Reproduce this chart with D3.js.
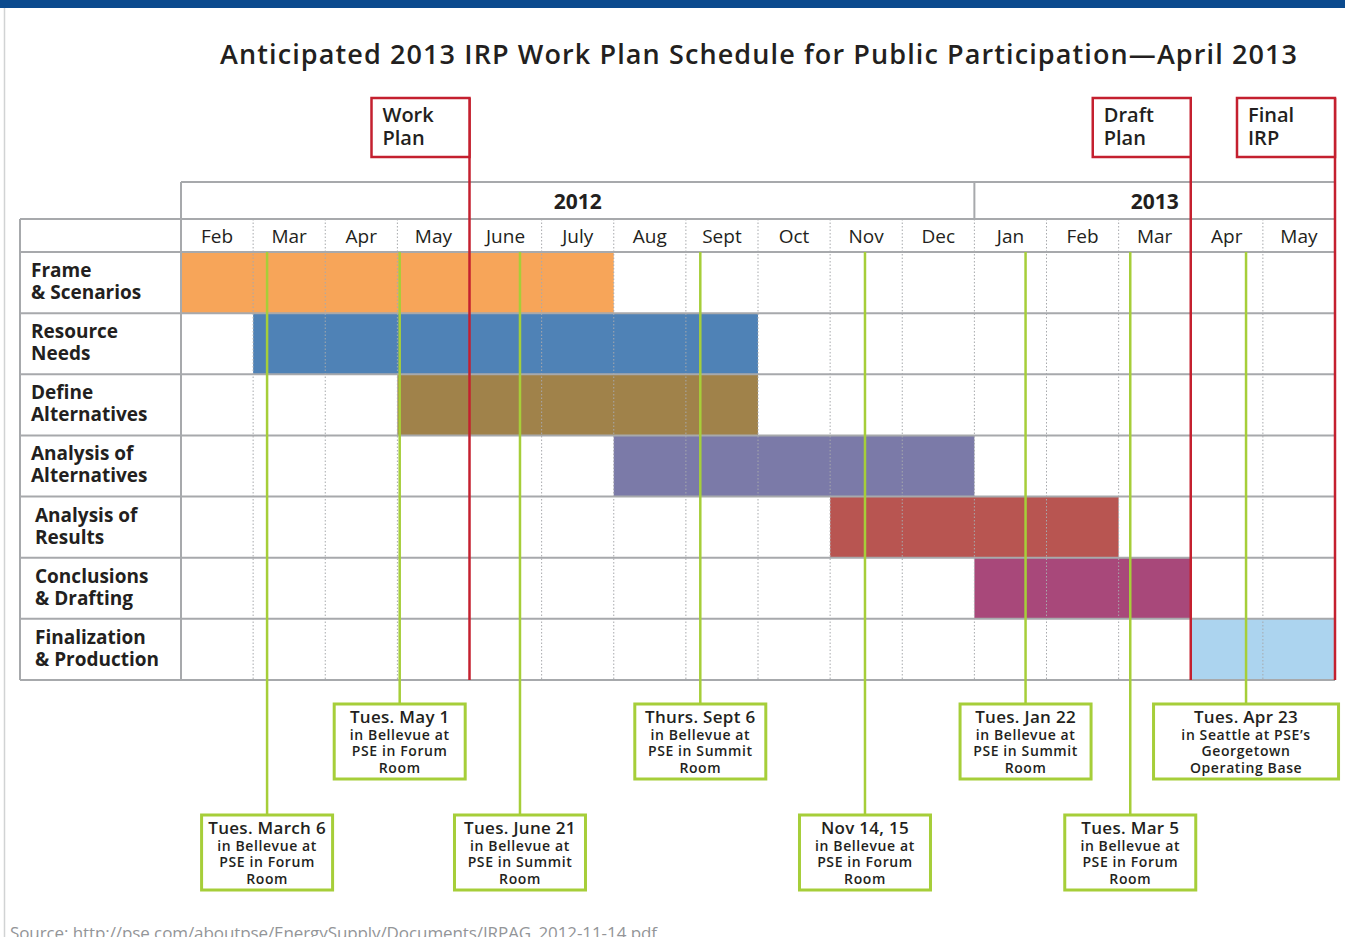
<!DOCTYPE html>
<html>
<head>
<meta charset="utf-8">
<script src="https://cdn.jsdelivr.net/npm/d3@7"></script>
<style>
  body { margin: 0; background: #fff; }
  text { font-family: "Open Sans", sans-serif; fill: #231f20; }
</style>
</head>
<body>
<div class="chartCont"></div>
<script>
const w = 1345;
const h = 937;

// data
const months = ["Feb","Mar","Apr","May","June","July","Aug","Sept","Oct","Nov","Dec","Jan","Feb","Mar","Apr","May"];
const years = ["2012", "2013"];
const yearFirstMonth = [0, 11];   // index into months

const tasks = ["Frame\n& Scenarios", "Resource\nNeeds", "Define\nAlternatives", "Analysis of\nAlternatives",
               "Analysis of\nResults", "Conclusions\n& Drafting", "Finalization\n& Production"];
const taskStart = [0, 1, 3, 6, 9, 11, 14];   // month index
const taskEnd   = [6, 8, 8, 11, 13, 14, 16];
const taskColors = ["#f7a559", "#4f82b6", "#a0824a", "#7b7aa8", "#b85551", "#a8487a", "#acd4ef"];

const milestones = ["Work\nPlan", "Draft\nPlan", "Final\nIRP"];
const milestoneMonth = [4, 14, 16];

const meetingTitles = ["Tues. March 6", "Tues. May 1", "Tues. June 21", "Thurs. Sept 6",
                       "Nov 14, 15", "Tues. Jan 22", "Tues. Mar 5", "Tues. Apr 23"];
const meetingMonth = [1, 3, 4, 7, 9, 11, 13, 14];        // month index
const meetingDay   = [6, 1, 21, 6, 14.5, 22, 5, 23];
const meetingDaysInMonth = [31, 31, 30, 30, 30, 31, 31, 30];
const meetingText = [
  ["in Bellevue at", "PSE in Forum", "Room"],
  ["in Bellevue at", "PSE in Forum", "Room"],
  ["in Bellevue at", "PSE in Summit", "Room"],
  ["in Bellevue at", "PSE in Summit", "Room"],
  ["in Bellevue at", "PSE in Forum", "Room"],
  ["in Bellevue at", "PSE in Summit", "Room"],
  ["in Bellevue at", "PSE in Forum", "Room"],
  ["in Seattle at PSE\u2019s", "Georgetown", "Operating Base"]
];
const meetingTier = [1, 0, 1, 0, 1, 0, 1, 0];

const svg = d3.select(".chartCont").append("svg")
    .attr("width", w)
    .attr("height", h);

const x = d3.scaleLinear().domain([0, months.length]).range([181, 1335]);
const yTop = 252, rowH = 61.14;
const y = d3.scaleBand().domain(d3.range(tasks.length)).range([yTop, yTop + rowH * tasks.length]);
const gridBottom = y.range()[1];
const labelLeft = 20;

const red = "#c4202f", green = "#a6ce39", gridCol = "#a7a9ac";

// top banner + page edge
svg.append("rect").attr("x", 0).attr("y", 0).attr("width", w).attr("height", 8).attr("fill", "#0b4a8e");
svg.append("line").attr("x1", 4.5).attr("x2", 4.5).attr("y1", 8).attr("y2", h)
   .attr("stroke", "#d1d3d4").attr("stroke-width", 1.5);

// title
svg.append("text")
   .attr("x", 220).attr("y", 64)
   .attr("textLength", 1077).attr("lengthAdjust", "spacing")
   .style("font-size", "27px").style("font-weight", 600)
   .text("Anticipated 2013 IRP Work Plan Schedule for Public Participation\u2014April 2013");

// bars
svg.selectAll(".bar")
   .data(tasks)
   .enter().append("rect")
   .attr("class", "bar")
   .attr("x", (d, i) => x(taskStart[i]))
   .attr("width", (d, i) => x(taskEnd[i]) - x(taskStart[i]))
   .attr("y", (d, i) => y(i))
   .attr("height", y.bandwidth())
   .attr("fill", (d, i) => taskColors[i]);

// dotted month separators
svg.selectAll(".mline")
   .data(d3.range(1, months.length))
   .enter().append("line")
   .attr("x1", d => x(d)).attr("x2", d => x(d))
   .attr("y1", 219).attr("y2", gridBottom)
   .attr("stroke", gridCol).attr("stroke-width", 1)
   .attr("stroke-dasharray", "1.5,2");

// solid grid lines
const hLines = [219].concat(d3.range(tasks.length + 1).map(i => yTop + i * rowH));
svg.selectAll(".hline")
   .data(hLines)
   .enter().append("line")
   .attr("x1", labelLeft).attr("x2", x.range()[1])
   .attr("y1", d => d).attr("y2", d => d)
   .attr("stroke", gridCol).attr("stroke-width", 2);
svg.append("line").attr("x1", x.range()[0]).attr("x2", x.range()[1]).attr("y1", 182).attr("y2", 182)
   .attr("stroke", gridCol).attr("stroke-width", 2);
svg.append("line").attr("x1", labelLeft).attr("x2", labelLeft).attr("y1", 219).attr("y2", gridBottom)
   .attr("stroke", gridCol).attr("stroke-width", 2);
svg.append("line").attr("x1", x.range()[0]).attr("x2", x.range()[0]).attr("y1", 182).attr("y2", gridBottom)
   .attr("stroke", gridCol).attr("stroke-width", 2);
svg.append("line").attr("x1", x.range()[1]).attr("x2", x.range()[1]).attr("y1", 182).attr("y2", gridBottom)
   .attr("stroke", gridCol).attr("stroke-width", 2);
svg.selectAll(".yline")
   .data(yearFirstMonth.slice(1))
   .enter().append("line")
   .attr("x1", d => x(d)).attr("x2", d => x(d))
   .attr("y1", 182).attr("y2", 219)
   .attr("stroke", gridCol).attr("stroke-width", 2);

// year labels
svg.selectAll(".year")
   .data(years)
   .enter().append("text")
   .attr("x", (d, i) => (x(yearFirstMonth[i]) + x(i + 1 < years.length ? yearFirstMonth[i + 1] : months.length)) / 2)
   .attr("y", 209)
   .attr("text-anchor", "middle")
   .style("font-size", "21px").style("font-weight", 700)
   .text(d => d);

// month labels
svg.selectAll(".month")
   .data(months)
   .enter().append("text")
   .attr("x", (d, i) => x(i + 0.5))
   .attr("y", 243)
   .attr("text-anchor", "middle")
   .style("font-size", "19px")
   .text(d => d);

// task labels
svg.selectAll(".task")
   .data(tasks)
   .enter().append("text")
   .attr("x", (d, i) => i >= 4 ? 35 : 31)
   .attr("y", (d, i) => y(i) + 25)
   .style("font-size", "19px").style("font-weight", 700)
   .each(function(d) {
      d.split("\n").forEach((t, j) => {
        d3.select(this).append("tspan").attr("x", d3.select(this).attr("x")).attr("dy", j ? 22 : 0).text(t);
      });
   });

// meeting lines + boxes
const meetX = i => x(meetingMonth[i] + meetingDay[i] / meetingDaysInMonth[i]);
const tierTop = [704, 815], boxH = 75;

svg.selectAll(".meetline")
   .data(meetingTitles)
   .enter().append("line")
   .attr("x1", (d, i) => meetX(i)).attr("x2", (d, i) => meetX(i))
   .attr("y1", yTop).attr("y2", (d, i) => tierTop[meetingTier[i]])
   .attr("stroke", green).attr("stroke-width", 2.5);

const meet = svg.selectAll(".meet")
   .data(meetingTitles)
   .enter().append("g")
   .attr("transform", (d, i) => `translate(${meetX(i)},${tierTop[meetingTier[i]]})`);

meet.append("rect")
   .attr("x", (d, i) => -(meetingText[i][2].length > 10 ? 185 : 131) / 2)
   .attr("width", (d, i) => meetingText[i][2].length > 10 ? 185 : 131)
   .attr("y", 0).attr("height", boxH)
   .attr("fill", "#fff").attr("stroke", green).attr("stroke-width", 3);

meet.append("text")
   .attr("text-anchor", "middle").attr("y", 19)
   .style("font-size", "17px").style("font-weight", 600).style("letter-spacing", "0.3px")
   .text(d => d);

meet.each(function(d, i) {
   d3.select(this).selectAll(".sub")
     .data(meetingText[i])
     .enter().append("text")
     .attr("text-anchor", "middle")
     .attr("y", (t, j) => 36 + j * 16.3)
     .style("font-size", "14px").style("font-weight", 600).style("letter-spacing", "0.6px")
     .text(t => t);
});

// milestones (red)
const msBoxW = 98, msTop = 98, msH = 59;
svg.selectAll(".msline")
   .data(milestones)
   .enter().append("line")
   .attr("x1", (d, i) => x(milestoneMonth[i])).attr("x2", (d, i) => x(milestoneMonth[i]))
   .attr("y1", msTop).attr("y2", gridBottom)
   .attr("stroke", red).attr("stroke-width", 2.5);

const ms = svg.selectAll(".ms")
   .data(milestones)
   .enter().append("g")
   .attr("transform", (d, i) => `translate(${x(milestoneMonth[i]) - msBoxW},${msTop})`);

ms.append("rect")
   .attr("width", msBoxW).attr("height", msH)
   .attr("fill", "#fff").attr("stroke", red).attr("stroke-width", 2.5);

ms.append("text")
   .attr("x", 11).attr("y", 24)
   .style("font-size", "20px").style("font-weight", 600)
   .each(function(d) {
      d.split("\n").forEach((t, j) => {
        d3.select(this).append("tspan").attr("x", 11).attr("dy", j ? 23 : 0).text(t);
      });
   });

// source
svg.append("text")
   .attr("x", 10).attr("y", 939)
   .attr("textLength", 647).attr("lengthAdjust", "spacing")
   .style("font-size", "17px").style("fill", "#939598")
   .text("Source: http://pse.com/aboutpse/EnergySupply/Documents/IRPAG_2012-11-14.pdf");
</script>
</body>
</html>
